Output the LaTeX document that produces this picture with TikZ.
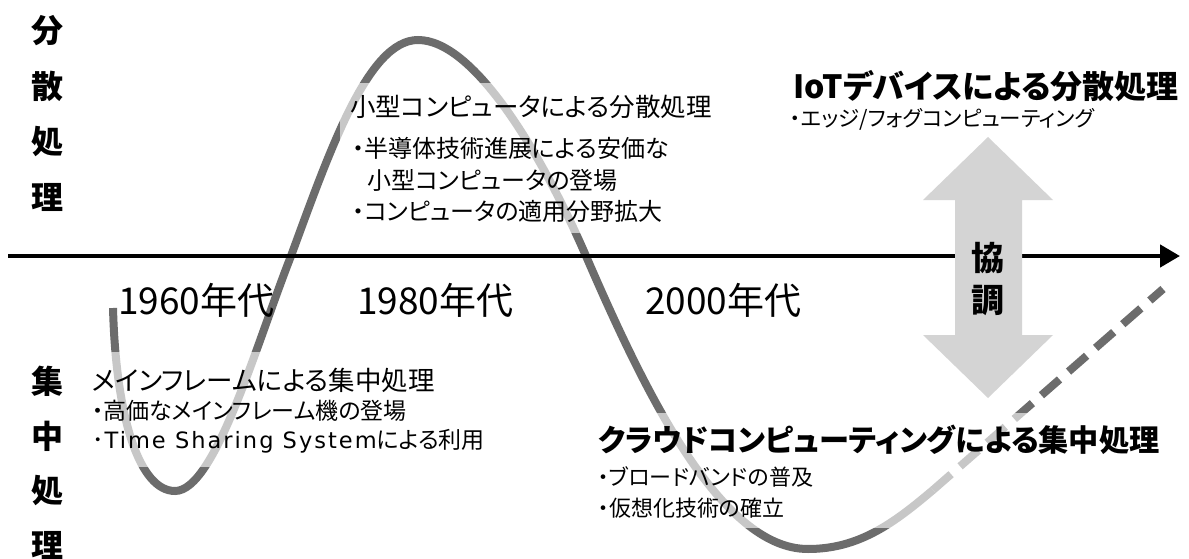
\documentclass[tikz,border=0pt]{standalone}
\usepackage{fontspec}
\setmainfont{Noto Sans CJK JP}[RawFeature=+palt]
\newfontfamily\latinwide{DejaVu Sans}[LetterSpace=9]
\usetikzlibrary{arrows.meta}
\definecolor{curvegray}{RGB}{108,108,108}
\definecolor{arrowgray}{RGB}{212,212,212}
\newcommand{\fs}[1]{\fontsize{#1}{#1}\selectfont}
\tikzset{
  wave/.style={draw=curvegray, line width=8pt},
  veil/.style={fill=white, fill opacity=0.62, draw=none, inner sep=0pt, anchor=north west},
  txt/.style={anchor=west, inner sep=0pt, text=black},
  vlabel/.style={inner sep=0pt, font=\fs{32}\bfseries},
  decade/.style={anchor=west, inner sep=0pt, font=\fs{37}},
}
\begin{document}
\begin{tikzpicture}[x=1pt,y=-1pt]
\useasboundingbox (0,0) rectangle (1189,559);
\fill[white] (0,0) rectangle (1189,559);

% wave
\coordinate (w0) at (113,308);
\coordinate (w1) at (175,491);
\coordinate (w2) at (291,256);
\coordinate (w3) at (418,40);
\coordinate (w4) at (586,256);
\coordinate (w5) at (808,549);
\coordinate (w6) at (933,490);
\coordinate (w7) at (1163,289);
\draw[wave] (w0) .. controls (116,420) and (140,491) .. (w1)
  .. controls (215,491) and (256,345) .. (w2)
  .. controls (330,150) and (368,40) .. (w3)
  .. controls (473,40) and (540,150) .. (w4)
  .. controls (644,390) and (720,549) .. (w5)
  .. controls (860,549) and (895,522) .. (w6);
\draw[wave, dash pattern=on 24pt off 12pt] (w6) -- (w7);

% translucent veils behind text blocks
\node[veil, minimum width=375pt, minimum height=150pt] (veilmini) at (340,83) {};
\node[veil, minimum width=402pt, minimum height=115pt] (veilmain) at (88,352) {};
\node[veil, minimum width=572pt, minimum height=115pt] (veilcloud) at (590,413) {};

% time axis
\coordinate (axL) at (8,256);
\coordinate (axR) at (1180,256);
\draw[line width=4.5pt, -{Triangle[length=20pt,width=22pt]}] (axL) -- (axR);

% cooperation double arrow
\fill[arrowgray] (988,137) -- (1053,200) -- (1022,200) -- (1022,335) -- (1053,335)
  -- (988,398) -- (923,335) -- (955,335) -- (955,200) -- (923,200) -- cycle;
\node[vlabel, font=\fs{33}\bfseries] (kyo) at (988,258) {協};
\node[vlabel, font=\fs{33}\bfseries] (cho) at (988,301) {調};

% vertical labels
\node[vlabel] (b1) at (47,31) {分};
\node[vlabel] (b2) at (47,86) {散};
\node[vlabel] (b3) at (47,142) {処};
\node[vlabel] (b4) at (47,197) {理};
\node[vlabel] (c1) at (47,381) {集};
\node[vlabel] (c2) at (47,436) {中};
\node[vlabel] (c3) at (47,491) {処};
\node[vlabel] (c4) at (47,545) {理};

% decades
\node[decade] (d1) at (118,300) {1960年代};
\node[decade] (d2) at (357,300) {1980年代};
\node[decade] (d3) at (645,300) {2000年代};

% mini computer block
\node[txt, font=\fs{25.5}] (m0) at (350,107) {小型コンピュータによる分散処理};
\node[txt, font=\fs{24}] (m1) at (352,148) {・半導体技術進展による安価な};
\node[txt, font=\fs{24}] (m2) at (367,180) {小型コンピュータの登場};
\node[txt, font=\fs{24}] (m3) at (352,211) {・コンピュータの適用分野拡大};

% mainframe block
\node[txt, font=\fs{26.5}] (f0) at (92,380) {メインフレームによる集中処理};
\node[txt, font=\fs{23}] (f1) at (92,411) {・高価なメインフレーム機の登場};
\node[txt, font=\fs{23}] (f2) at (92,441) {･\hspace{1pt}{\latinwide\fontsize{22.5}{22.5}\selectfont Time Sharing System}による利用};

% cloud block
\node[txt, font=\fs{30.2}\bfseries] (k0) at (598,440) {クラウドコンピューティングによる集中処理};
\node[txt, font=\fs{22}] (k1) at (598,477) {・ブロードバンドの普及};
\node[txt, font=\fs{22}] (k2) at (598,508) {・仮想化技術の確立};

% IoT block
\node[txt, font=\fs{32}\bfseries] (i0) at (793,86) {IoTデバイスによる分散処理};
\node[txt, font=\fs{21.5}] (i1) at (790,119) {・エッジ/フォグコンピューティング};
\end{tikzpicture}
\end{document}
